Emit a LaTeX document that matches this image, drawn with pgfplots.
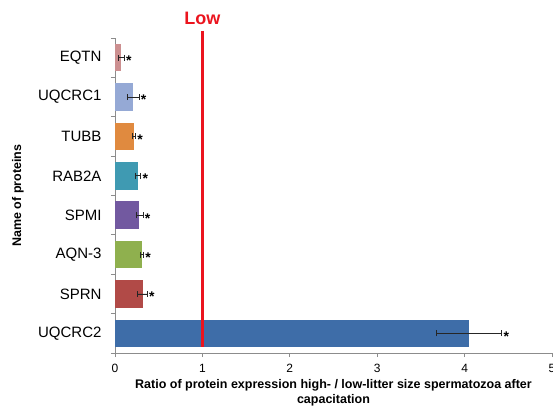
\documentclass[border=0pt]{standalone}
\usepackage{pgfplots}
\pgfplotsset{compat=1.18}
\usepackage{fontspec}
\setmainfont{Liberation Sans}
\definecolor{cEQTN}{HTML}{CC8F90}
\definecolor{cUQ1}{HTML}{95A9D5}
\definecolor{cTUBB}{HTML}{E08A3F}
\definecolor{cRAB}{HTML}{3F9AB2}
\definecolor{cSPMI}{HTML}{7259A0}
\definecolor{cAQN}{HTML}{8FB04E}
\definecolor{cSPRN}{HTML}{B14A47}
\definecolor{cUQ2}{HTML}{3E6DA8}
\definecolor{lowred}{RGB}{235,20,30}
\definecolor{axgray}{HTML}{8C8C8C}
\begin{document}
\begin{tikzpicture}
\begin{axis}[
  scale only axis, width=437pt, height=315pt,
  at={(0,0)}, anchor=south west,
  clip=false,
  xmin=0, xmax=5, ymin=-0.5, ymax=7.5, y dir=reverse,
  axis x line*=bottom, axis y line*=left,
  axis line style={draw=axgray, line width=0.8pt, -},
  tick align=outside, major tick length=4pt,
  tick style={draw=axgray, line width=0.8pt},
  xtick={0,1,2,3,4,5},
  /pgf/number format/assume math mode=true,
  xticklabel style={font=\fontsize{12}{12}\selectfont, yshift=-4pt},
  ytick={-0.5,0.5,...,7.5}, yticklabels={},
  extra y ticks={0,1,2,3,4,5,6,7},
  extra y tick labels={EQTN,UQCRC1,TUBB,RAB2A,SPMI,AQN-3,SPRN,UQCRC2},
  extra y tick style={tick style={draw=none}, tick label style={font=\fontsize{15}{15}\selectfont, xshift=-6pt}},
  xlabel={Ratio of protein expression high- / low-litter size spermatozoa after\\capacitation},
  xlabel style={font=\bfseries\fontsize{12.5}{15}\selectfont, align=center, at={(axis description cs:0.5,0)}, anchor=north, yshift=-23pt},
  ylabel={Name of proteins},
  ylabel style={font=\bfseries\fontsize{12.5}{15}\selectfont, at={(axis description cs:-0.222,0.5)}, anchor=center, rotate=0},
]
\pgfplotsset{
  mybar/.style={xbar, bar width=27.5pt, bar shift=0pt, draw=none, fill=#1,
    error bars/.cd, x dir=both, x explicit,
    error mark=|,
    error bar style={line width=0.7pt, black!85},
    error mark options={line width=0.7pt, mark size=3pt, black!85}},
}
\addplot[mybar=cEQTN] coordinates {(0.07,0) +- (0.035,0)};
\addplot[mybar=cUQ1]  coordinates {(0.21,1) +- (0.065,0)};
\addplot[mybar=cTUBB] coordinates {(0.215,2) +- (0.02,0)};
\addplot[mybar=cRAB]  coordinates {(0.265,3) +- (0.03,0)};
\addplot[mybar=cSPMI] coordinates {(0.28,4) +- (0.04,0)};
\addplot[mybar=cAQN]  coordinates {(0.305,5) +- (0.02,0)};
\addplot[mybar=cSPRN] coordinates {(0.315,6) +- (0.055,0)};
\addplot[mybar=cUQ2]  coordinates {(4.05,7) +- (0.375,0)};
% significance asterisks
\addplot[draw=none, mark=none, nodes near coords={*},
  every node near coord/.style={anchor=west, inner sep=0.5pt, xshift=1.2pt, yshift=-3pt, font=\bfseries\fontsize{14}{14}\selectfont, text=black}]
  coordinates {(0.105,0) (0.275,1) (0.235,2) (0.295,3) (0.32,4) (0.325,5) (0.37,6) (4.425,7)};
% reference line
\addplot[draw=lowred, line width=3.5pt, mark=none] coordinates {(1,-0.68) (1,7.35)};
\node[font=\bfseries\fontsize{18}{18}\selectfont, text=lowred, anchor=south, inner sep=0pt, yshift=6pt] at (axis cs:1,-0.68) {Low};
\end{axis}
\pgfresetboundingbox
\path[use as bounding box] (-115pt,-57pt) rectangle (438pt,353pt);
\end{tikzpicture}
\end{document}
